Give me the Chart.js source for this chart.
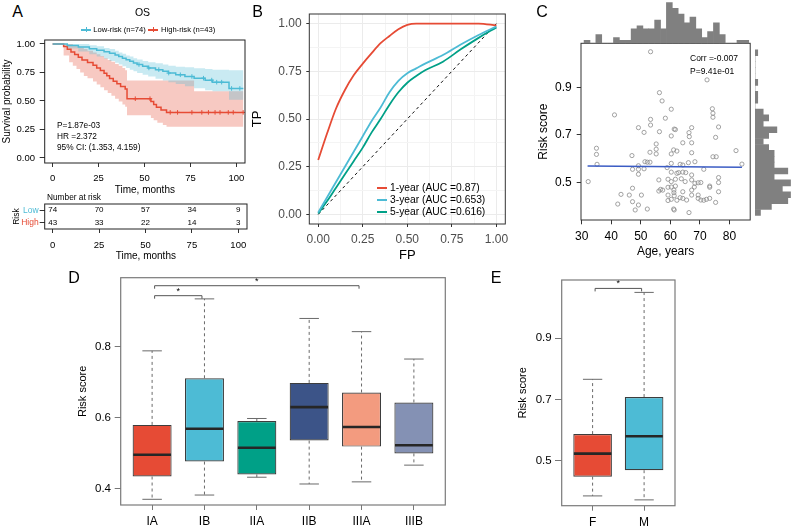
<!DOCTYPE html>
<html><head><meta charset="utf-8">
<script src="https://cdn.jsdelivr.net/npm/chart.js@4.4.1/dist/chart.umd.min.js"></script>
<style>
html,body{margin:0;padding:0;background:#fff;}
body{width:796px;height:528px;overflow:hidden;position:relative;font-family:'Liberation Sans',Arial,Helvetica,sans-serif;color:#000;}
canvas{position:absolute;z-index:1;}
.t{position:absolute;white-space:nowrap;line-height:1;transform:translateY(-50%);z-index:5;}
.c{transform:translate(-50%,-50%);}
.bx{position:absolute;z-index:5;}
</style></head><body>
<div class="t c" style="left:17.5px;top:12px;font-size:16px">A</div>
<div class="t c" style="left:257.5px;top:12px;font-size:16px">B</div>
<div class="t c" style="left:542px;top:12px;font-size:16px">C</div>
<div class="t c" style="left:74px;top:278px;font-size:16px">D</div>
<div class="t c" style="left:496px;top:278px;font-size:16px">E</div>
<div class="t c" style="left:142.5px;top:12px;font-size:10.5px">OS</div>
<div class="bx" style="left:81px;top:29px;width:10px;height:1.5px;background:#4DBBD5"></div>
<div class="bx" style="left:85.5px;top:27.3px;width:1px;height:5px;background:#4DBBD5"></div>
<div class="t" style="left:93.3px;top:29.7px;font-size:7.6px">Low-risk (n=74)</div>
<div class="bx" style="left:148.3px;top:29px;width:10px;height:1.5px;background:#E64B35"></div>
<div class="bx" style="left:152.8px;top:27.3px;width:1px;height:5px;background:#E64B35"></div>
<div class="t" style="left:161px;top:29.7px;font-size:7.6px">High-risk (n=43)</div>
<div class="t" style="left:57px;top:125px;font-size:8.3px">P=1.87e-03</div>
<div class="t" style="left:57px;top:136px;font-size:8.3px">HR =2.372</div>
<div class="t" style="left:57px;top:147px;font-size:8.3px">95% CI: (1.353, 4.159)</div>
<div class="t" style="left:47px;top:197px;font-size:8.3px">Number at risk</div>
<div class="bx" style="left:377px;top:187px;width:10px;height:2px;background:#E64B35"></div>
<div class="t" style="left:390px;top:188px;font-size:10.3px">1-year (AUC =0.87)</div>
<div class="bx" style="left:377px;top:199px;width:10px;height:2px;background:#4DBBD5"></div>
<div class="t" style="left:390px;top:200px;font-size:10.3px">3-year (AUC =0.653)</div>
<div class="bx" style="left:377px;top:210.5px;width:10px;height:2px;background:#00A087"></div>
<div class="t" style="left:390px;top:211.5px;font-size:10.3px">5-year (AUC =0.616)</div>
<div class="t" style="left:690px;top:58px;font-size:8.5px">Corr =-0.007</div>
<div class="t" style="left:690px;top:71px;font-size:8.5px">P=9.41e-01</div>
<script>
// ================= DATA =================
// Panel A: Kaplan-Meier OS
const kmTicksX = [0, 25, 50, 75, 100];
const kmTicksY = [0, 0.25, 0.5, 0.75, 1];
const lowRiskKM = [[0,1],[8,0.986],[14,0.973],[20,0.959],[24,0.946],[28,0.932],[31,0.918],[34,0.904],[36,0.89],[38,0.876],[40,0.862],[42,0.848],[44,0.834],[46,0.82],[49,0.805],[52,0.79],[56,0.775],[60,0.76],[63,0.745],[67,0.73],[72,0.715],[77,0.70],[83,0.683],[87,0.665],[96,0.61],[103.8,0.61]];
const highRiskKM = [[0,1],[6,0.977],[8,0.953],[10,0.93],[12,0.907],[14,0.884],[16,0.86],[19,0.837],[22,0.814],[24,0.79],[26,0.767],[28,0.744],[29.5,0.721],[31,0.698],[33,0.674],[35,0.651],[37,0.628],[39.5,0.605],[40.5,0.52],[53.5,0.495],[55,0.47],[56.5,0.445],[59,0.42],[62,0.40],[103.8,0.40]];
const lowRiskUpper = [[0,1],[14,1],[20,0.99],[24,0.98],[28,0.965],[31,0.955],[34,0.94],[36,0.925],[38,0.915],[40,0.90],[42,0.89],[44,0.875],[46,0.865],[49,0.85],[52,0.84],[56,0.83],[60,0.82],[63,0.81],[67,0.80],[72,0.795],[77,0.788],[83,0.78],[87,0.775],[96,0.77],[103.8,0.77]];
const lowRiskLower = [[0,1],[8,0.96],[14,0.935],[20,0.91],[24,0.89],[28,0.87],[31,0.85],[34,0.835],[36,0.82],[38,0.805],[40,0.79],[42,0.775],[44,0.76],[46,0.745],[49,0.73],[52,0.715],[56,0.695],[60,0.68],[63,0.665],[67,0.648],[72,0.63],[77,0.612],[83,0.595],[87,0.585],[96,0.51],[103.8,0.51]];
const highRiskUpper = [[0,1],[11,0.99],[13,0.98],[15,0.97],[17,0.955],[19,0.94],[22,0.925],[24,0.91],[26,0.895],[28,0.875],[30,0.86],[32,0.845],[34,0.825],[36,0.81],[38,0.79],[39.5,0.77],[40.5,0.68],[77,0.585],[103.8,0.585]];
const highRiskLower = [[0,1],[6,0.90],[9,0.84],[11,0.81],[13,0.78],[15,0.75],[17,0.72],[19,0.70],[22,0.67],[24,0.645],[26,0.62],[28,0.595],[30,0.57],[32,0.545],[34,0.52],[36,0.495],[38,0.47],[39.5,0.45],[40.5,0.375],[53.5,0.35],[55,0.33],[57,0.31],[60,0.29],[62,0.275],[103.8,0.275]];
const lowRiskCensor = [[47,0.82],[52.4,0.79],[57.8,0.775],[63.2,0.745],[69.5,0.73],[75.8,0.715],[82.1,0.70],[86.6,0.683],[89.3,0.665],[92,0.665],[97.4,0.61],[101.9,0.61]];
const highRiskCensor = [[45,0.52],[53,0.52],[64,0.40],[68,0.40],[75.8,0.40],[81.2,0.40],[84.8,0.40],[88.4,0.40],[91.1,0.40],[95.6,0.40],[98.3,0.40],[103.7,0.40]];
const riskGroups = ['Low', 'High'];
const riskTimes = [0, 25, 50, 75, 100];
const lowAtRisk = [74, 70, 57, 34, 9];
const highAtRisk = [43, 33, 22, 14, 3];

// Panel B: ROC
const rocTicks = [0,0.125,0.25,0.375,0.5,0.625,0.75,0.875,1];
const rocFP   = [0,0.05,0.1,0.15,0.2,0.25,0.3,0.35,0.4,0.45,0.5,0.55,0.6,0.7,0.8,0.9,1.0];
const roc1yTP = [0.285,0.425,0.555,0.652,0.73,0.79,0.845,0.897,0.935,0.97,0.993,1,1,1,1,1,0.99];
const roc3yTP = [0.01,0.09,0.17,0.25,0.33,0.41,0.49,0.56,0.64,0.70,0.74,0.765,0.79,0.835,0.89,0.94,0.985];
const roc5yTP = [0.005,0.07,0.14,0.21,0.28,0.35,0.43,0.50,0.575,0.64,0.69,0.725,0.755,0.80,0.865,0.925,0.98];
const diagFP = [0, 1];
const diagTP = [0, 1];

// Panel C: age vs risk score
const ageTicks = [30, 40, 50, 60, 70, 80];
const riskTicksC = [0.5, 0.7, 0.9];
const ageValues = [53.3,72.4,56.3,57.2,41.1,60.3,74.2,74.4,74.4,53.3,58.3,53.3,49.2,51.1,56.3,61.3,61.7,67.2,76.3,60.3,66.3,66.4,75.3,64.2,67.2,55.2,55.2,55.2,35,35,35.2,47,53.1,51.4,52.2,53.1,61.1,62.2,60.3,67.2,74.4,75.5,82.2,84.2,66.1,68.3,60.3,63.3,64.2,49.2,47.2,49.2,51.1,58.9,62.2,62.8,64.2,65.2,60.3,67.2,71.3,49.2,32.2,56.1,59.2,60.3,61.7,63.7,65,67.2,68.3,69.4,70.3,76.3,76.3,73.3,73.3,68.1,61.7,59.2,60.3,47.2,56.1,56.7,57.4,61.2,61.2,64.2,67.2,76.3,43.3,46.1,50.2,59.2,61.3,67.2,69.4,63.3,64.2,65.5,62.2,59.2,60.3,69.4,70.3,71.3,72.2,73.3,75.3,47.2,42.2,49.2,52.2,48.1,61.1,61.3,66.3];
const riskValues = [1.052,0.933,0.879,0.844,0.785,0.809,0.811,0.792,0.775,0.766,0.771,0.742,0.731,0.711,0.714,0.725,0.723,0.731,0.734,0.696,0.71,0.693,0.69,0.667,0.667,0.662,0.64,0.62,0.644,0.618,0.576,0.613,0.627,0.587,0.585,0.585,0.637,0.632,0.62,0.625,0.608,0.608,0.634,0.577,0.583,0.587,0.58,0.576,0.573,0.57,0.555,0.555,0.557,0.562,0.538,0.541,0.543,0.541,0.543,0.531,0.555,0.534,0.503,0.51,0.513,0.503,0.513,0.515,0.503,0.51,0.496,0.498,0.499,0.52,0.499,0.484,0.479,0.48,0.484,0.479,0.48,0.475,0.463,0.47,0.467,0.467,0.456,0.46,0.467,0.46,0.449,0.446,0.446,0.446,0.443,0.446,0.446,0.435,0.432,0.425,0.424,0.423,0.428,0.432,0.425,0.424,0.428,0.432,0.415,0.418,0.408,0.404,0.387,0.383,0.387,0.383,0.372];
const fitAge = [32, 84.2];
const fitRisk = [0.569, 0.564];
const ageBinMid = [31.78,33.74,35.70,37.66,39.62,41.58,43.54,45.50,47.46,49.42,51.38,53.34,55.30,57.26,59.22,61.18,63.14,65.10,67.06,69.02,70.98,72.94,74.90,76.86,78.82,80.78,82.74,84.70];
const ageBinCount = [1,0,3,0,0,2,1,1,5,6,5,5,8,5,14,12,10,7,9,5,2,4,7,3,0,0,1,1];
const riskBinMid = [0.3725,0.3975,0.4225,0.4475,0.4725,0.4975,0.5225,0.5475,0.5725,0.5975,0.6225,0.6475,0.6725,0.6975,0.7225,0.7475,0.7725,0.7975,0.8225,0.8475,0.8725,0.8975,0.9225,0.9475,0.9725,0.9975,1.0225,1.0475];
const riskBinCount = [2,6,12,13,10,13,7,12,7,7,7,5,3,5,8,3,5,3,0,1,1,0,1,0,0,0,0,1];

// Panel D: risk score by stage
const stageCats = ['IA','IB','IIA','IIB','IIIA','IIIB'];
const stageLower  = [0.371,0.383,0.433,0.414,0.420,0.467];
const stageQ1     = [0.435,0.477,0.441,0.536,0.519,0.500];
const stageMedian = [0.496,0.569,0.516,0.630,0.574,0.523];
const stageQ3     = [0.580,0.711,0.591,0.698,0.671,0.643];
const stageUpper  = [0.788,0.934,0.598,0.879,0.842,0.765];
const stageTicksY = [0.4, 0.6, 0.8];
const stageBrackets = [{a:1,b:2,y:0.943,label:'*'},{a:1,b:5,y:0.971,label:'*'}];

// Panel E: risk score by sex
const sexCats = ['F','M'];
const sexLower  = [0.385,0.372];
const sexQ1     = [0.448,0.469];
const sexMedian = [0.523,0.580];
const sexQ3     = [0.587,0.708];
const sexUpper  = [0.766,1.050];
const sexTicksY = [0.5, 0.7, 0.9];
const sexBrackets = [{a:1,b:2,y:1.063,label:'*'}];

// ================= STYLE / HELPERS =================
const FONT = "'Liberation Sans', Arial, Helvetica, sans-serif";
const RED = '#E64B35', CYAN = '#4DBBD5', GREEN = '#00A087';
Chart.defaults.font.family = FONT;
Chart.defaults.color = '#000';
Chart.defaults.animation = false;
Chart.defaults.responsive = false;
Chart.defaults.maintainAspectRatio = false;
Chart.defaults.plugins.legend.display = false;
Chart.defaults.plugins.tooltip.enabled = false;
Chart.defaults.events = [];
Chart.defaults.layout.padding = 0;

function mkCanvas(l, t, w, h) {
  const c = document.createElement('canvas');
  c.width = w; c.height = h;
  c.style.left = l + 'px'; c.style.top = t + 'px';
  c.style.width = w + 'px'; c.style.height = h + 'px';
  document.body.appendChild(c);
  return c.getContext('2d');
}
function pts(arr) { return arr.map(p => ({x: p[0], y: p[1]})); }
function zip(xs, ys) { return xs.map((x, i) => ({x: x, y: ys[i]})); }
function ax(o) {
  const vertical = (o.pos === 'left' || o.pos === 'right');
  const a = {
    type: o.type || 'linear', position: o.pos, offset: !!o.offset, bounds: 'data',
    afterFit: s => { if (vertical) s.width = o.size; else s.height = o.size;
      s.paddingLeft = 0; s.paddingRight = 0; s.paddingTop = 0; s.paddingBottom = 0; },
    border: {display: false},
    grid: {display: true, offset: false, drawOnChartArea: !!o.gridColor, color: o.gridColor || 'rgba(0,0,0,0)',
      lineWidth: 1, drawTicks: true, tickLength: o.tl, tickColor: o.tickColor || '#333', tickWidth: 1},
    ticks: {display: true, font: {size: o.fs}, color: o.tc || '#000', padding: o.tp, autoSkip: false,
      maxRotation: 0, minRotation: 0, includeBounds: false},
    title: {display: !!o.title, text: o.title || '', font: {size: o.tfs || o.fs}, color: '#000', padding: o.tpad || 0}
  };
  if (o.min !== undefined) { a.min = o.min; a.max = o.max; }
  if (o.labels) a.labels = o.labels;
  if (o.ticks) a.afterBuildTicks = s => { s.ticks = o.ticks.map(v => ({value: v})); };
  if (o.cb) a.ticks.callback = o.cb;
  return a;
}
const frame = {
  id: 'frame',
  afterDraw(chart, args, o) {
    if (!o || !o.color) return;
    const a = chart.chartArea, c = chart.ctx;
    c.save(); c.strokeStyle = o.color; c.lineWidth = o.width || 1;
    c.strokeRect(a.left, a.top, a.right - a.left, a.bottom - a.top);
    c.restore();
  }
};
const riskText = {
  id: 'riskText',
  afterDatasetsDraw(chart) {
    const c = chart.ctx;
    c.save(); c.font = '8px ' + FONT; c.fillStyle = '#000'; c.textAlign = 'center'; c.textBaseline = 'middle';
    chart.data.datasets.forEach((ds, di) => {
      chart.getDatasetMeta(di).data.forEach((el, i) => { c.fillText(String(ds.data[i].n), el.x, el.y); });
    });
    c.restore();
  }
};
function boxPlugin(id, lower, median, upper, brackets) {
  return {
    id: id,
    afterDatasetsDraw(chart) {
      const meta = chart.getDatasetMeta(0), ys = chart.scales.y, xs = chart.scales.x, c = chart.ctx;
      c.save();
      meta.data.forEach((el, i) => {
        const x = el.x, w = el.width;
        const top = Math.min(el.y, el.base), bot = Math.max(el.y, el.base);
        const yHi = ys.getPixelForValue(upper[i]), yLo = ys.getPixelForValue(lower[i]);
        const yMed = ys.getPixelForValue(median[i]);
        c.strokeStyle = '#6a6a6a'; c.lineWidth = 1; c.setLineDash([3, 3]);
        c.beginPath(); c.moveTo(x, top); c.lineTo(x, yHi); c.moveTo(x, bot); c.lineTo(x, yLo); c.stroke();
        c.setLineDash([]);
        c.beginPath(); c.moveTo(x - w * 0.25, yHi); c.lineTo(x + w * 0.25, yHi);
        c.moveTo(x - w * 0.25, yLo); c.lineTo(x + w * 0.25, yLo); c.stroke();
        c.strokeStyle = '#262626'; c.lineWidth = 2.6;
        c.beginPath(); c.moveTo(x - w / 2 + 0.6, yMed); c.lineTo(x + w / 2 - 0.6, yMed); c.stroke();
      });
      c.strokeStyle = '#555'; c.lineWidth = 1; c.fillStyle = '#000';
      c.font = '9px ' + FONT; c.textAlign = 'center'; c.textBaseline = 'middle';
      brackets.forEach(b => {
        const xa = xs.getPixelForValue(b.a) + 2.5, xb = xs.getPixelForValue(b.b) - 2.5, yb = ys.getPixelForValue(b.y);
        c.beginPath(); c.moveTo(xa, yb + 3); c.lineTo(xa, yb); c.lineTo(xb, yb); c.lineTo(xb, yb + 3); c.stroke();
        c.fillText(b.label, (xa + xb) / 2, yb - 4.5);
      });
      c.restore();
    }
  };
}

// ================= PANEL A: KM =================
new Chart(mkCanvas(0, 35, 250, 165), {
  type: 'line',
  data: {datasets: [
    {data: pts(lowRiskKM), borderColor: CYAN, borderWidth: 1.5, stepped: true, pointRadius: 0, fill: false},
    {data: pts(highRiskKM), borderColor: RED, borderWidth: 1.5, stepped: true, pointRadius: 0, fill: false},
    {data: pts(lowRiskCensor), showLine: false, pointStyle: 'cross', pointRadius: 2.3, borderColor: CYAN, borderWidth: 1},
    {data: pts(highRiskCensor), showLine: false, pointStyle: 'cross', pointRadius: 2.3, borderColor: RED, borderWidth: 1},
    {data: pts(lowRiskUpper), stepped: true, borderWidth: 0, borderColor: 'rgba(0,0,0,0)', pointRadius: 0, backgroundColor: 'rgba(77,187,213,0.3)', fill: '+1'},
    {data: pts(lowRiskLower), stepped: true, borderWidth: 0, borderColor: 'rgba(0,0,0,0)', pointRadius: 0, fill: false},
    {data: pts(highRiskUpper), stepped: true, borderWidth: 0, borderColor: 'rgba(0,0,0,0)', pointRadius: 0, backgroundColor: 'rgba(230,75,53,0.3)', fill: '+1'},
    {data: pts(highRiskLower), stepped: true, borderWidth: 0, borderColor: 'rgba(0,0,0,0)', pointRadius: 0, fill: false}
  ]},
  options: {
    layout: {padding: {left: 0, right: 3, top: 5, bottom: 0}},
    scales: {
      x: ax({pos: 'bottom', min: -4.3, max: 104.7, size: 37, ticks: kmTicksX, fs: 9.5, tl: 4, tp: 5.3,
             title: 'Time, months', tfs: 10, tpad: {bottom: 4}, cb: v => String(v)}),
      y: ax({pos: 'left', min: -0.044, max: 1.035, size: 44.7, ticks: kmTicksY, fs: 9.5, tl: 5, tp: 4.7,
             title: 'Survival probability', tfs: 10, tpad: {top: 1}, cb: v => v.toFixed(2)})
    },
    plugins: {frame: {color: '#222', width: 1}}
  },
  plugins: [frame]
});

// Risk table
new Chart(mkCanvas(0, 195, 250, 70), {
  type: 'line',
  data: {datasets: [
    {data: riskTimes.map((t, i) => ({x: t, y: riskGroups[0], n: lowAtRisk[i]})), showLine: false, pointRadius: 0},
    {data: riskTimes.map((t, i) => ({x: t, y: riskGroups[1], n: highAtRisk[i]})), showLine: false, pointRadius: 0}
  ]},
  options: {
    layout: {padding: {left: 0, right: 3, top: 9, bottom: 0}},
    scales: {
      x: ax({pos: 'bottom', min: -4.3, max: 104.7, size: 36, ticks: riskTimes, fs: 9.5, tl: 4, tp: 6.3,
             title: 'Time, months', tfs: 10, tpad: {bottom: 2.3}, cb: v => String(v)}),
      y: ax({pos: 'left', type: 'category', labels: riskGroups, offset: true, size: 44.7, fs: 8.5, tl: 5, tp: 1,
             tc: c => (c.index === 0 ? CYAN : RED), title: 'Risk', tfs: 8.5, tpad: {top: 11.3}})
    },
    plugins: {frame: {color: '#222', width: 1}}
  },
  plugins: [frame, riskText]
});

// ================= PANEL B: ROC =================
const isMajor = v => Math.abs(v * 4 - Math.round(v * 4)) < 1e-6;
new Chart(mkCanvas(245, 5, 265, 260), {
  type: 'line',
  data: {datasets: [
    {data: zip(rocFP, roc1yTP), borderColor: RED, borderWidth: 1.8, pointRadius: 0, cubicInterpolationMode: 'monotone', fill: false},
    {data: zip(rocFP, roc3yTP), borderColor: CYAN, borderWidth: 1.8, pointRadius: 0, cubicInterpolationMode: 'monotone', fill: false},
    {data: zip(rocFP, roc5yTP), borderColor: GREEN, borderWidth: 1.8, pointRadius: 0, cubicInterpolationMode: 'monotone', fill: false},
    {data: zip(diagFP, diagTP), borderColor: '#111', borderWidth: 1, borderDash: [3, 3], pointRadius: 0, fill: false}
  ]},
  options: {
    layout: {padding: {left: 0, right: 4.7, top: 9, bottom: 0}},
    scales: {
      x: ax({pos: 'bottom', min: -0.05, max: 1.05, size: 41, ticks: rocTicks, fs: 12, tl: 3, tp: 5.8, tc: '#4d4d4d',
             gridColor: c => (isMajor(c.tick.value) ? '#EBEBEB' : '#F4F4F4'),
             tickColor: c => (isMajor(c.tick.value) ? '#333' : 'rgba(0,0,0,0)'),
             title: 'FP', tfs: 13, tpad: {bottom: 2.2}, cb: v => (isMajor(v) ? v.toFixed(2) : '')}),
      y: ax({pos: 'left', min: -0.05, max: 1.05, size: 64.3, ticks: rocTicks, fs: 12, tl: 3, tp: 4.6, tc: '#4d4d4d',
             gridColor: c => (isMajor(c.tick.value) ? '#EBEBEB' : '#F4F4F4'),
             tickColor: c => (isMajor(c.tick.value) ? '#333' : 'rgba(0,0,0,0)'),
             title: 'TP', tfs: 13, tpad: {top: 4.2}, cb: v => (isMajor(v) ? v.toFixed(2) : '')})
    },
    plugins: {frame: {color: '#333', width: 1}}
  },
  plugins: [frame]
});

// ================= PANEL C: scatter + marginals =================
const C_XMIN = 29.77, C_XMAX = 87, C_YMIN = 0.3406, C_YMAX = 1.0877;
new Chart(mkCanvas(530, 38, 225, 227), {
  type: 'scatter',
  data: {datasets: [
    {type: 'line', data: zip(fitAge, fitRisk), borderColor: '#3B5CC4', borderWidth: 1.5, pointRadius: 0, fill: false},
    {data: zip(ageValues, riskValues), pointRadius: 2.1, pointBorderWidth: 0.8, borderColor: '#8c8c8c', backgroundColor: 'rgba(0,0,0,0)', pointBorderColor: '#8c8c8c', pointBackgroundColor: 'rgba(0,0,0,0)'}
  ]},
  options: {
    layout: {padding: {left: 0, right: 2.3, top: 5.3, bottom: 0}},
    scales: {
      x: ax({pos: 'bottom', min: C_XMIN, max: C_XMAX, size: 45, ticks: ageTicks, fs: 12, tl: 4.3, tp: 5.5,
             title: 'Age, years', tfs: 12, tpad: {bottom: 6.1}, cb: v => String(v)}),
      y: ax({pos: 'left', min: C_YMIN, max: C_YMAX, size: 51, ticks: riskTicksC, fs: 12, tl: 4.3, tp: 5,
             title: 'Risk score', tfs: 12, tpad: {top: 6.1}, cb: v => v.toFixed(1)})
    },
    plugins: {frame: {color: '#333', width: 1}}
  },
  plugins: [frame]
});
new Chart(mkCanvas(530, 0, 225, 44), {
  type: 'bar',
  data: {datasets: [{data: zip(ageBinMid, ageBinCount), backgroundColor: '#808080', borderWidth: 0, barPercentage: 1, categoryPercentage: 1}]},
  options: {
    layout: {padding: {left: 51, right: 2.3, top: 1, bottom: 0.7}},
    scales: {
      x: {type: 'linear', min: C_XMIN, max: C_XMAX, display: false, offset: false},
      y: {type: 'linear', min: 0, max: 14.5, display: false}
    }
  }
});
new Chart(mkCanvas(755, 38, 41, 227), {
  type: 'bar',
  data: {datasets: [{data: riskBinMid.map((m, i) => ({y: m, x: riskBinCount[i]})), backgroundColor: '#808080', borderWidth: 0, barPercentage: 1, categoryPercentage: 1}]},
  options: {
    indexAxis: 'y',
    layout: {padding: {left: 0, right: 0, top: 5.3, bottom: 45}},
    scales: {
      y: {type: 'linear', min: C_YMIN, max: C_YMAX, display: false, offset: false},
      x: {type: 'linear', min: 0, max: 15, display: false}
    }
  }
});

// ================= PANEL D: boxplot by stage =================
new Chart(mkCanvas(60, 268, 390, 260), {
  type: 'bar',
  data: {datasets: [{
    data: stageCats.map((c, i) => ({x: i + 1, y: [stageQ1[i], stageQ3[i]]})),
    backgroundColor: ['#E64B35', '#4DBBD5', '#00A087', '#3C5488', '#F39B7F', '#8491B4'],
    borderColor: '#3d3d3d', borderWidth: 1.2, borderSkipped: false, barPercentage: 0.745, categoryPercentage: 1
  }]},
  options: {
    layout: {padding: {left: 0, right: 4.7, top: 9.7, bottom: 0}},
    scales: {
      x: ax({pos: 'bottom', min: 0.4, max: 6.6, size: 23, ticks: stageCats.map((c, i) => i + 1), fs: 12, tl: 5, tp: 4.8,
             tickColor: '#777', cb: v => stageCats[Math.round(v) - 1]}),
      y: ax({pos: 'left', min: 0.355, max: 0.9935, size: 60.7, ticks: stageTicksY, fs: 11.5, tl: 6, tp: 3.7,
             tickColor: '#777', title: 'Risk score', tfs: 11, tpad: {top: 16.7}, cb: v => v.toFixed(1)})
    },
    plugins: {frame: {color: '#7a7a7a', width: 1.2}}
  },
  plugins: [frame, boxPlugin('boxD', stageLower, stageMedian, stageUpper, stageBrackets)]
});

// ================= PANEL E: boxplot by sex =================
new Chart(mkCanvas(500, 268, 180, 260), {
  type: 'bar',
  data: {datasets: [{
    data: sexCats.map((c, i) => ({x: i + 1, y: [sexQ1[i], sexQ3[i]]})),
    backgroundColor: ['#E64B35', '#4DBBD5'],
    borderColor: '#3d3d3d', borderWidth: 1.2, borderSkipped: false, barPercentage: 0.75, categoryPercentage: 1
  }]},
  options: {
    layout: {padding: {left: 0, right: 5, top: 12, bottom: 0}},
    scales: {
      x: ax({pos: 'bottom', min: 0.4, max: 2.6, size: 22.3, ticks: sexCats.map((c, i) => i + 1), fs: 12, tl: 5, tp: 4.4,
             tickColor: '#777', cb: v => sexCats[Math.round(v) - 1]}),
      y: ax({pos: 'left', min: 0.353, max: 1.0905, size: 61.7, ticks: sexTicksY, fs: 11.5, tl: 6.7, tp: 3.3,
             tickColor: '#777', title: 'Risk score', tfs: 11, tpad: {top: 16.7}, cb: v => v.toFixed(1)})
    },
    plugins: {frame: {color: '#7a7a7a', width: 1.2}}
  },
  plugins: [frame, boxPlugin('boxE', sexLower, sexMedian, sexUpper, sexBrackets)]
});
</script>
</body></html>
